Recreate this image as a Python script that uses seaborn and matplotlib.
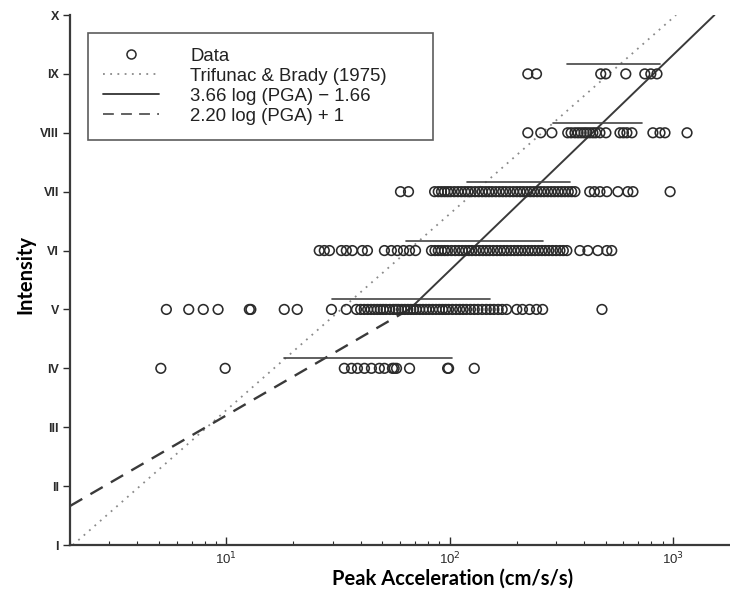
import numpy as np
import pandas as pd
import matplotlib
matplotlib.use("Agg")
import matplotlib.pyplot as plt
from matplotlib.lines import Line2D
import seaborn as sns

# ---------------- data ----------------
intensity_labels = ["I", "II", "III", "IV", "V", "VI", "VII", "VIII", "IX", "X"]
intensity_values = [1, 2, 3, 4, 5, 6, 7, 8, 9, 10]
xtick_values = [10, 100, 1000]
xtick_labels = ["10$^{1}$", "10$^{2}$", "10$^{3}$"]

pga_IV = [5.1, 9.9, 33.8, 36.4, 38.7, 41.6, 44.7, 48.5, 51.1, 55.5, 56.5, 57.9,
          66.2, 98, 99, 129]
pga_V = [5.4, 6.8, 7.9, 9.2, 12.7, 12.9, 18.2, 20.8, 29.6, 34.5, 38.3, 40, 41.5,
         43, 44.5, 46, 47.5, 49, 50.5, 52, 54, 56, 57.5, 59, 61, 63, 65, 67, 69,
         71, 73.5, 76, 78.5, 81, 84, 87, 90, 93, 96, 99, 103, 107, 111, 115, 119,
         124, 129, 134, 140, 146, 152, 158, 165, 172, 180, 200, 212, 228, 245,
         261, 481]
pga_VI = [26.1, 27.5, 29.0, 32.8, 34.5, 36.7, 40.7, 42.9, 51.1, 54.9, 58.4, 62.2,
          66.2, 70.4, 83, 86, 89, 92, 95, 98, 102, 106, 110, 114, 118, 122,
          126, 131, 136, 141, 146, 151, 157, 163, 169, 175, 181, 188, 195, 202,
          209, 217, 225, 233, 241, 250, 259, 268, 278, 289, 300, 312, 323, 335,
          383, 416, 461, 506, 532]
pga_VII = [60.3, 65.5, 85.7, 89, 92, 95, 98, 101, 105, 109, 113, 117, 121, 125,
           130, 135, 140, 145, 150, 155, 161, 167, 173, 179, 186, 193, 200, 207,
           214, 222, 230, 238, 247, 256, 265, 275, 285, 295, 306, 317, 328, 340,
           352, 364, 424, 445, 471, 506, 567, 628, 662, 971]
pga_VIII = [224, 256, 287, 338, 350, 364, 376, 388, 400, 411, 424, 438, 451,
            471, 501, 579, 600, 622, 655, 813, 875, 921, 1156]
pga_IX = [224, 245, 475, 500, 615, 748, 796, 848]

bar_levels = [4, 5, 6, 7, 8, 9]
bar_low = [18.2, 29.9, 64.1, 120, 290, 335]
bar_high = [103, 151, 261, 345, 726, 875]

# ---------------- build tables ----------------
rows = []
for lvl, vals in zip([4, 5, 6, 7, 8, 9], [pga_IV, pga_V, pga_VI, pga_VII, pga_VIII, pga_IX]):
    for v in vals:
        rows.append({"pga": v, "intensity": lvl})
df = pd.DataFrame(rows)

# relations given in the legend
I_tb = np.array([1.0, 10.0])
tb = pd.DataFrame({"pga": 10 ** (0.3 * I_tb + 0.014), "intensity": I_tb})
a_sol = np.array([10 ** (6.66 / 3.66), 10 ** (11.66 / 3.66)])
sol = pd.DataFrame({"pga": a_sol, "intensity": 3.66 * np.log10(a_sol) - 1.66})
a_dash = np.array([2.0, 10 ** (4 / 2.2)])
dash = pd.DataFrame({"pga": a_dash, "intensity": 2.20 * np.log10(a_dash) + 1})

# ---------------- figure ----------------
sns.set_style("ticks")
plt.rcParams["font.family"] = ["Liberation Sans", "DejaVu Sans"]

fig = plt.figure(figsize=(7.30, 5.96), dpi=100)
ax = fig.add_axes([70 / 730, 51 / 596, 660 / 730, 530 / 596])

ink = "#2b2b2b"
sns.lineplot(data=tb, x="pga", y="intensity", ax=ax, color="#8a8a8a",
             linestyle=(0, (1, 3)), linewidth=1.3, sort=False)
sns.lineplot(data=sol, x="pga", y="intensity", ax=ax, color="#3a3a3a",
             linewidth=1.4, sort=False)
sns.lineplot(data=dash, x="pga", y="intensity", ax=ax, color="#3a3a3a",
             linestyle=(0, (6, 4)), linewidth=1.7, sort=False)

sns.scatterplot(data=df, x="pga", y="intensity", ax=ax, marker="o", s=48,
                facecolors="none", edgecolor=ink, linewidth=1.15, zorder=3)

for lvl, lo, hi in zip(bar_levels, bar_low, bar_high):
    ax.plot([lo, hi], [lvl + 0.17, lvl + 0.17], color="#444444", linewidth=1.2)

ax.set_xscale("log")
ax.set_xlim(2, 1800)
ax.set_ylim(1, 10)

ax.set_yticks(intensity_values)
ax.set_yticklabels(intensity_labels, fontsize=9, fontweight="bold", color=ink)
ax.set_xticks(xtick_values)
ax.set_xticklabels(xtick_labels, fontsize=9.5, color=ink)
ax.tick_params(axis="y", direction="out", length=5, width=1, color=ink, pad=3)
ax.tick_params(axis="x", which="major", direction="in", length=6, width=1, color=ink, pad=4)
ax.tick_params(axis="x", which="minor", direction="in", length=3, width=0.8, color=ink)

sns.despine(ax=ax)
for sp in ["left", "bottom"]:
    ax.spines[sp].set_linewidth(1.6)
    ax.spines[sp].set_color("#3a3a3a")

ax.set_xlabel("Peak Acceleration (cm/s/s)", fontsize=14.5, fontweight="bold",
              family=["Lato", "DejaVu Sans"], color="black")
ax.set_ylabel("Intensity", fontsize=14.5, fontweight="bold",
              family=["Lato", "DejaVu Sans"], color="black")
ax.xaxis.set_label_coords(0.58, -0.045)
ax.yaxis.set_label_coords(-0.052, 0.51)

handles = [
    Line2D([], [], marker="o", linestyle="none", markerfacecolor="none",
           markeredgecolor=ink, markersize=6.5, markeredgewidth=1.1),
    Line2D([], [], color="#8a8a8a", linestyle=(0, (1, 3)), linewidth=1.3),
    Line2D([], [], color="#333333", linewidth=1.3),
    Line2D([], [], color="#555555", linestyle=(0, (6, 4)), linewidth=1.3),
]
labels = ["Data", "Trifunac & Brady (1975)", "3.66 log (PGA) \u2212 1.66",
          "2.20 log (PGA) + 1"]
leg = ax.legend(handles, labels, loc="upper left",
                bbox_to_anchor=(0.027, 0.766, 0.523, 0.2), mode="expand",
                fontsize=13.4, handlelength=3.0, handletextpad=1.7,
                labelspacing=0.16, borderpad=0.8, frameon=True, fancybox=False,
                borderaxespad=0)
leg.get_frame().set_edgecolor("#333333")
leg.get_frame().set_linewidth(1.2)
for t in leg.get_texts():
    t.set_color("#222222")

fig.savefig("out.png", dpi=100)
